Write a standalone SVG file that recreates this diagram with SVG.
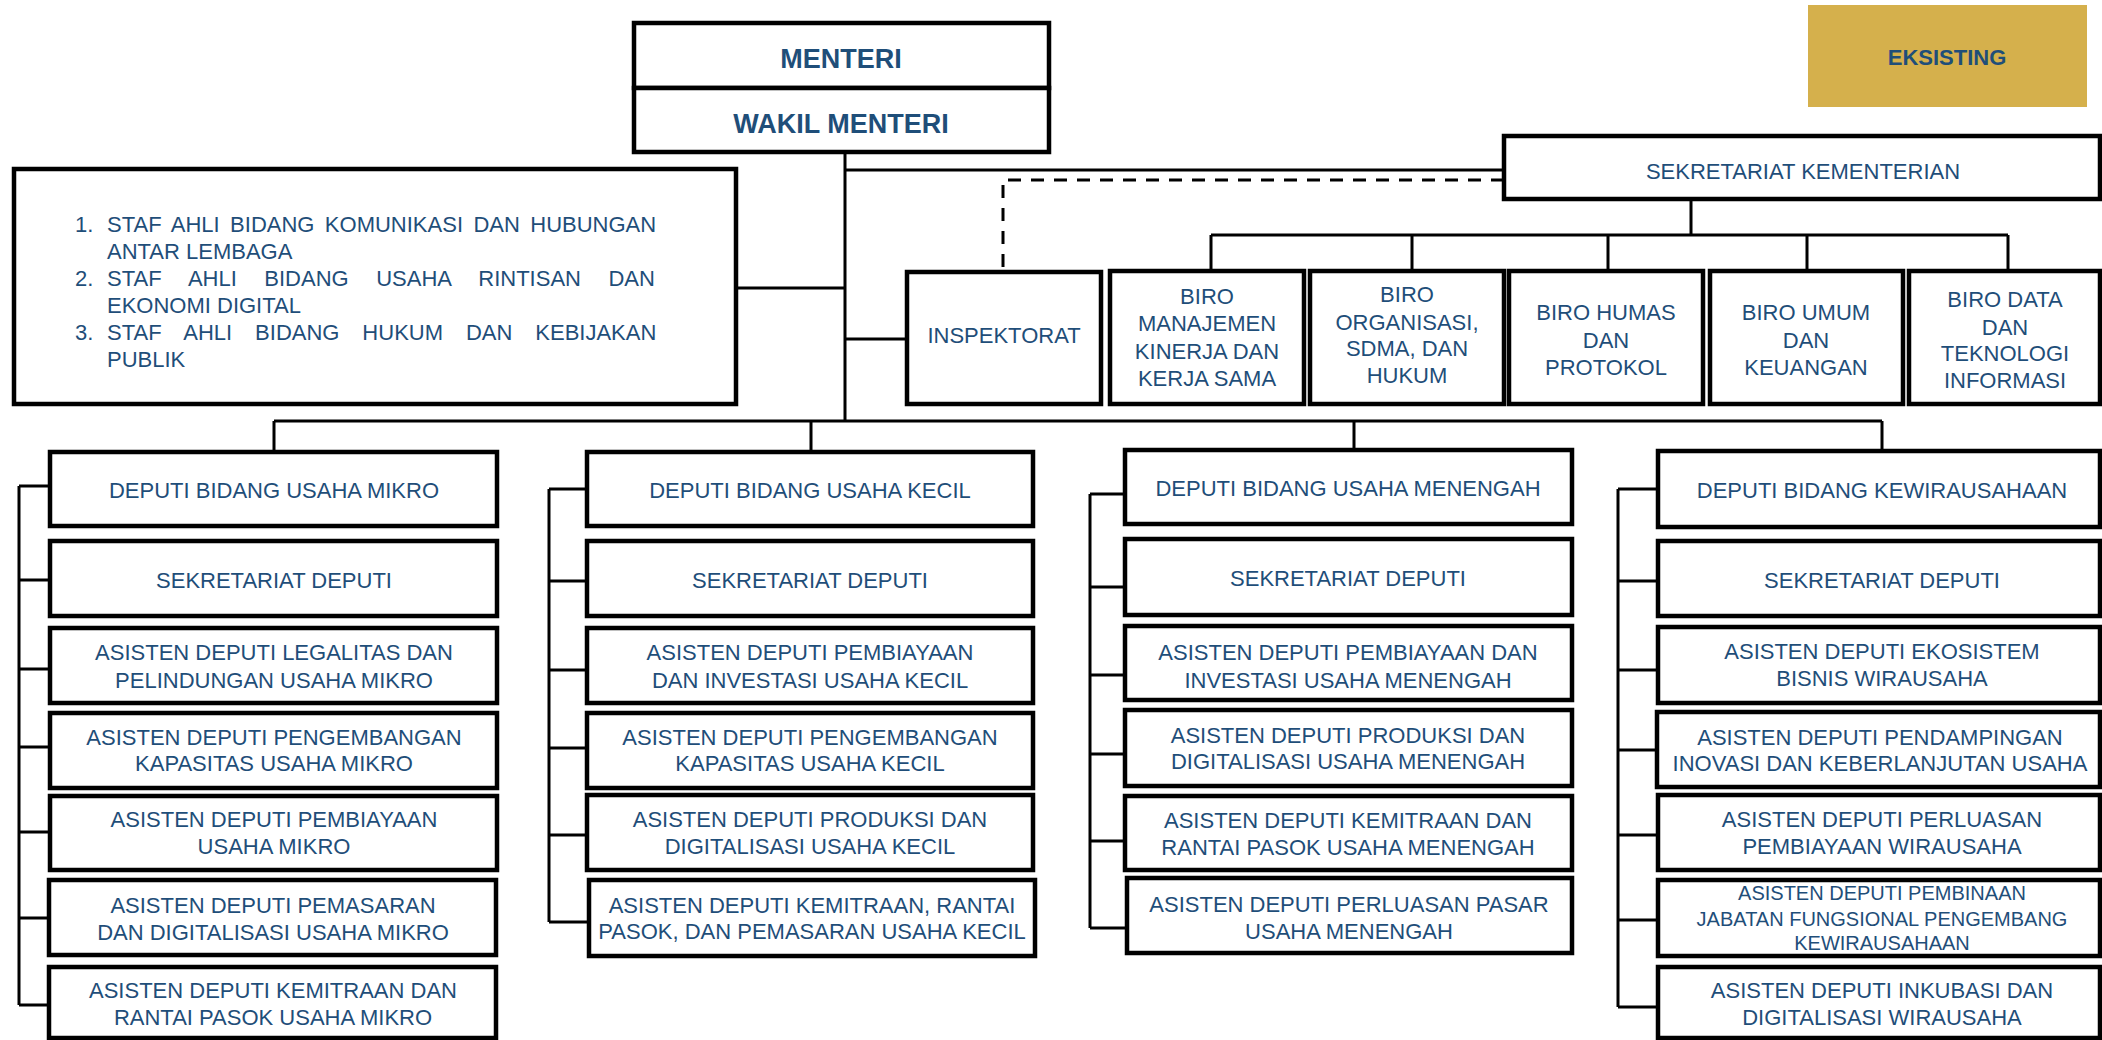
<svg xmlns="http://www.w3.org/2000/svg" width="2102" height="1040" viewBox="0 0 2102 1040">
<style>
.box{fill:#fff;stroke:#000;stroke-width:4.5}
.t{font-family:"Liberation Sans",Arial,sans-serif;font-size:22px;fill:#1F4E79;text-anchor:middle}
.l{text-anchor:start}
.bd{font-weight:bold}
.big{font-size:27px}
.sm{font-size:20px}
.ln{stroke:#000;stroke-width:3;fill:none}
.ds{stroke-dasharray:13 10}
</style>
<rect width="2102" height="1040" fill="#fff"/>
<g id="connectors">
<path class="ln" d="M845 152V421M845 170H1504M736 288H845M845 339H907M274 421H1882M274 421V452M811 421V452M1354 421V450M1882 421V451"/>
<path class="ln ds" d="M1504 180H1003V272"/>
<path class="ln" d="M1691 199V235M1211 235H2008M1211 235V271M1412 235V271M1608 235V271M1807 235V271M2008 235V271"/>
<path class="ln" d="M19 486V1005M19 486H50M19 580H50M19 669H50M19 747H50M19 832H50M19 918H50M19 1005H50"/>
<path class="ln" d="M549 489V922M549 489H587M549 581H587M549 670H587M549 748H587M549 835H587M549 922H589"/>
<path class="ln" d="M1090 494V928M1090 494H1125M1090 587H1125M1090 675H1125M1090 754H1125M1090 841H1125M1090 928H1127"/>
<path class="ln" d="M1618 489V1007M1618 489H1658M1618 581H1658M1618 670H1658M1618 750H1657M1618 835H1658M1618 920H1658M1618 1007H1658"/>
</g>
<g id="eksisting"><rect x="1808" y="5" width="279" height="102" fill="#D5B04C"/><text class="t bd" x="1947" y="65">EKSISTING</text></g>
<g id="menteri"><rect class="box" x="634" y="23" width="415" height="65" stroke-width="5"/><text class="t bd big" x="841" y="68">MENTERI</text></g>
<g id="wakil-menteri"><rect class="box" x="634" y="88" width="415" height="64" stroke-width="5"/><text class="t bd big" x="841" y="133">WAKIL MENTERI</text></g>
<g id="staf-ahli"><rect class="box" x="14" y="169" width="722" height="235" stroke-width="5"/>
<text class="t l"><tspan x="75" y="232">1.</tspan><tspan x="107" y="232" word-spacing="4.3">STAF AHLI BIDANG KOMUNIKASI DAN HUBUNGAN</tspan><tspan x="107" y="259">ANTAR LEMBAGA</tspan><tspan x="75" y="286">2.</tspan><tspan x="107" y="286" word-spacing="21.4">STAF AHLI BIDANG USAHA RINTISAN DAN</tspan><tspan x="107" y="313">EKONOMI DIGITAL</tspan><tspan x="75" y="340">3.</tspan><tspan x="107" y="340" word-spacing="16.8">STAF AHLI BIDANG HUKUM DAN KEBIJAKAN</tspan><tspan x="107" y="367">PUBLIK</tspan></text></g>
<g id="sekretariat-kementerian"><rect class="box" x="1504" y="136" width="596" height="63"/><text class="t" x="1803" y="179">SEKRETARIAT KEMENTERIAN</text></g>
<g id="inspektorat"><rect class="box" x="907" y="272" width="194" height="132"/><text class="t" x="1004" y="343">INSPEKTORAT</text></g>
<g id="biro-1"><rect class="box" x="1110" y="271" width="194" height="133"/><text class="t"><tspan x="1207" y="304">BIRO</tspan><tspan x="1207" y="331">MANAJEMEN</tspan><tspan x="1207" y="359">KINERJA DAN</tspan><tspan x="1207" y="386">KERJA SAMA</tspan></text></g>
<g id="biro-2"><rect class="box" x="1310" y="271" width="194" height="133"/><text class="t"><tspan x="1407" y="302">BIRO</tspan><tspan x="1407" y="330">ORGANISASI,</tspan><tspan x="1407" y="356">SDMA, DAN</tspan><tspan x="1407" y="383">HUKUM</tspan></text></g>
<g id="biro-3"><rect class="box" x="1509" y="271" width="194" height="133"/><text class="t"><tspan x="1606" y="320">BIRO HUMAS</tspan><tspan x="1606" y="348">DAN</tspan><tspan x="1606" y="375">PROTOKOL</tspan></text></g>
<g id="biro-4"><rect class="box" x="1710" y="271" width="193" height="133"/><text class="t"><tspan x="1806" y="320">BIRO UMUM</tspan><tspan x="1806" y="348">DAN</tspan><tspan x="1806" y="375">KEUANGAN</tspan></text></g>
<g id="biro-5"><rect class="box" x="1909" y="271" width="191" height="133"/><text class="t"><tspan x="2005" y="307">BIRO DATA</tspan><tspan x="2005" y="335">DAN</tspan><tspan x="2005" y="361">TEKNOLOGI</tspan><tspan x="2005" y="388">INFORMASI</tspan></text></g>

<g id="c1-1"><rect class="box" x="50" y="452" width="447" height="74"/><text class="t" x="274" y="498">DEPUTI BIDANG USAHA MIKRO</text></g>
<g id="c1-2"><rect class="box" x="50" y="541" width="447" height="75"/><text class="t" x="274" y="588">SEKRETARIAT DEPUTI</text></g>
<g id="c1-3"><rect class="box" x="50" y="628" width="447" height="75"/><text class="t"><tspan x="274" y="660">ASISTEN DEPUTI LEGALITAS DAN</tspan><tspan x="274" y="688">PELINDUNGAN USAHA MIKRO</tspan></text></g>
<g id="c1-4"><rect class="box" x="50" y="713" width="447" height="75"/><text class="t"><tspan x="274" y="745">ASISTEN DEPUTI PENGEMBANGAN</tspan><tspan x="274" y="771">KAPASITAS USAHA MIKRO</tspan></text></g>
<g id="c1-5"><rect class="box" x="50" y="796" width="447" height="74"/><text class="t"><tspan x="274" y="827">ASISTEN DEPUTI PEMBIAYAAN</tspan><tspan x="274" y="854">USAHA MIKRO</tspan></text></g>
<g id="c1-6"><rect class="box" x="49" y="880" width="447" height="75"/><text class="t"><tspan x="273" y="913">ASISTEN DEPUTI PEMASARAN</tspan><tspan x="273" y="940">DAN DIGITALISASI USAHA MIKRO</tspan></text></g>
<g id="c1-7"><rect class="box" x="49" y="967" width="447" height="71"/><text class="t"><tspan x="273" y="998">ASISTEN DEPUTI KEMITRAAN DAN</tspan><tspan x="273" y="1025">RANTAI PASOK USAHA MIKRO</tspan></text></g>

<g id="c2-1"><rect class="box" x="587" y="452" width="446" height="74"/><text class="t" x="810" y="498">DEPUTI BIDANG USAHA KECIL</text></g>
<g id="c2-2"><rect class="box" x="587" y="541" width="446" height="75"/><text class="t" x="810" y="588">SEKRETARIAT DEPUTI</text></g>
<g id="c2-3"><rect class="box" x="587" y="628" width="446" height="75"/><text class="t"><tspan x="810" y="660">ASISTEN DEPUTI PEMBIAYAAN</tspan><tspan x="810" y="688">DAN INVESTASI USAHA KECIL</tspan></text></g>
<g id="c2-4"><rect class="box" x="587" y="713" width="446" height="75"/><text class="t"><tspan x="810" y="745">ASISTEN DEPUTI PENGEMBANGAN</tspan><tspan x="810" y="771">KAPASITAS USAHA KECIL</tspan></text></g>
<g id="c2-5"><rect class="box" x="587" y="795" width="446" height="75"/><text class="t"><tspan x="810" y="827">ASISTEN DEPUTI PRODUKSI DAN</tspan><tspan x="810" y="854">DIGITALISASI USAHA KECIL</tspan></text></g>
<g id="c2-6"><rect class="box" x="589" y="880" width="446" height="76"/><text class="t"><tspan x="812" y="913">ASISTEN DEPUTI KEMITRAAN, RANTAI</tspan><tspan x="812" y="939">PASOK, DAN PEMASARAN USAHA KECIL</tspan></text></g>

<g id="c3-1"><rect class="box" x="1125" y="450" width="447" height="74"/><text class="t" x="1348" y="496">DEPUTI BIDANG USAHA MENENGAH</text></g>
<g id="c3-2"><rect class="box" x="1125" y="539" width="447" height="76"/><text class="t" x="1348" y="586">SEKRETARIAT DEPUTI</text></g>
<g id="c3-3"><rect class="box" x="1125" y="626" width="447" height="74"/><text class="t"><tspan x="1348" y="660">ASISTEN DEPUTI PEMBIAYAAN DAN</tspan><tspan x="1348" y="688">INVESTASI USAHA MENENGAH</tspan></text></g>
<g id="c3-4"><rect class="box" x="1125" y="710" width="447" height="76"/><text class="t"><tspan x="1348" y="743">ASISTEN DEPUTI PRODUKSI DAN</tspan><tspan x="1348" y="769">DIGITALISASI USAHA MENENGAH</tspan></text></g>
<g id="c3-5"><rect class="box" x="1125" y="796" width="447" height="74"/><text class="t"><tspan x="1348" y="828">ASISTEN DEPUTI KEMITRAAN DAN</tspan><tspan x="1348" y="855">RANTAI PASOK USAHA MENENGAH</tspan></text></g>
<g id="c3-6"><rect class="box" x="1127" y="878" width="445" height="75"/><text class="t"><tspan x="1349" y="912">ASISTEN DEPUTI PERLUASAN PASAR</tspan><tspan x="1349" y="939">USAHA MENENGAH</tspan></text></g>

<g id="c4-1"><rect class="box" x="1658" y="451" width="442" height="76"/><text class="t" x="1882" y="498">DEPUTI BIDANG KEWIRAUSAHAAN</text></g>
<g id="c4-2"><rect class="box" x="1658" y="541" width="442" height="75"/><text class="t" x="1882" y="588">SEKRETARIAT DEPUTI</text></g>
<g id="c4-3"><rect class="box" x="1658" y="627" width="442" height="76"/><text class="t"><tspan x="1882" y="659">ASISTEN DEPUTI EKOSISTEM</tspan><tspan x="1882" y="686">BISNIS WIRAUSAHA</tspan></text></g>
<g id="c4-4"><rect class="box" x="1657" y="712" width="443" height="75"/><text class="t"><tspan x="1880" y="745">ASISTEN DEPUTI PENDAMPINGAN</tspan><tspan x="1880" y="771">INOVASI DAN KEBERLANJUTAN USAHA</tspan></text></g>
<g id="c4-5"><rect class="box" x="1658" y="795" width="442" height="75"/><text class="t"><tspan x="1882" y="827">ASISTEN DEPUTI PERLUASAN</tspan><tspan x="1882" y="854">PEMBIAYAAN WIRAUSAHA</tspan></text></g>
<g id="c4-6"><rect class="box" x="1658" y="880" width="442" height="76"/><text class="t sm"><tspan x="1882" y="900">ASISTEN DEPUTI PEMBINAAN</tspan><tspan x="1882" y="926">JABATAN FUNGSIONAL PENGEMBANG</tspan><tspan x="1882" y="950">KEWIRAUSAHAAN</tspan></text></g>
<g id="c4-7"><rect class="box" x="1658" y="967" width="442" height="71"/><text class="t"><tspan x="1882" y="998">ASISTEN DEPUTI INKUBASI DAN</tspan><tspan x="1882" y="1025">DIGITALISASI WIRAUSAHA</tspan></text></g>
</svg>
